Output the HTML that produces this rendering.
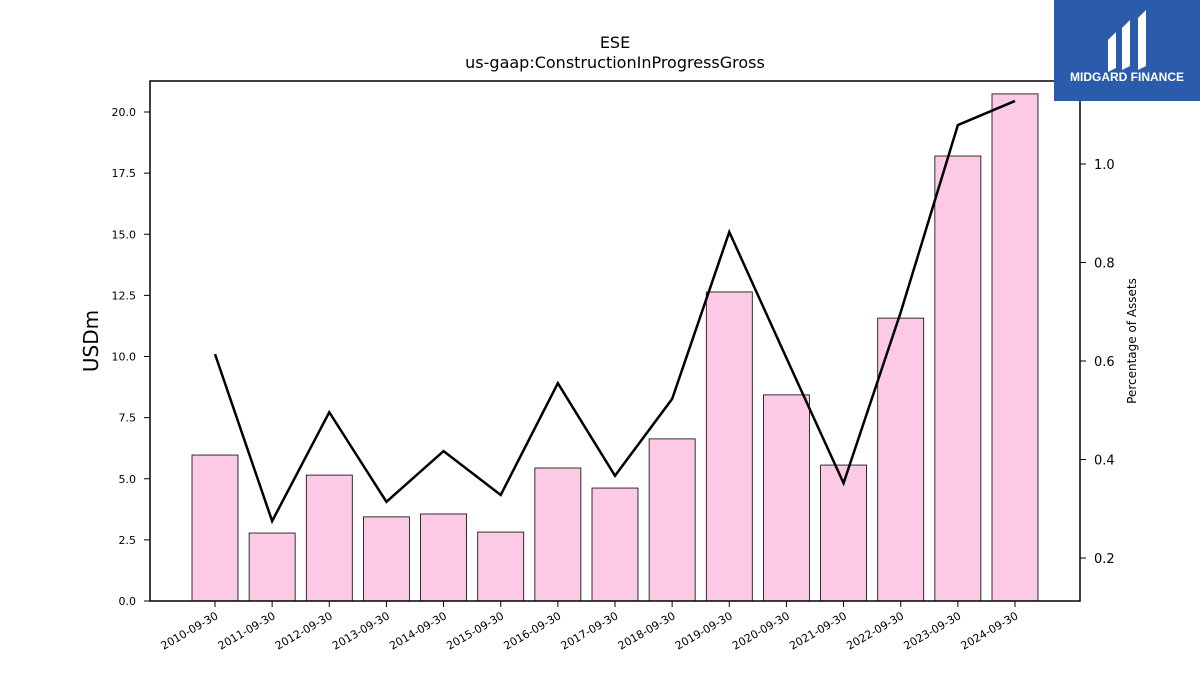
<!DOCTYPE html>
<html><head><meta charset="utf-8"><style>
body{margin:0;background:#fff;width:1200px;height:675px;overflow:hidden;font-family:"Liberation Sans","DejaVu Sans",sans-serif}
</style></head><body>
<svg id="chart" width="1200" height="675" xmlns="http://www.w3.org/2000/svg" font-family="DejaVu Sans, Liberation Sans, sans-serif">
<text x="615" y="48" text-anchor="middle" font-size="16">ESE</text>
<text x="615" y="68" text-anchor="middle" font-size="16">us-gaap:ConstructionInProgressGross</text>
<g id="bars"></g><g id="line"></g><g id="axes"></g>
<rect x="150" y="81" width="930" height="520" fill="none" stroke="#000" stroke-width="1.5"/>
<text transform="translate(98,341) rotate(-90)" text-anchor="middle" font-size="20">USDm</text>
<text transform="translate(1136,341) rotate(-90)" text-anchor="middle" font-size="12">Percentage of Assets</text>
<g>
<rect x="1054" y="0" width="146" height="101" fill="#2b5bab"/>
<path d="M1108 40 L1116 32 L1116 68 L1108 72 Z M1122 28 L1130 20 L1130 66 L1122 70 Z M1138 18 L1146 10 L1146 66 L1138 70 Z" fill="#fff"/>
<text x="1127" y="81" text-anchor="middle" font-size="12" font-weight="bold" fill="#fff" font-family="Liberation Sans, sans-serif">MIDGARD FINANCE</text>
</g>
</svg>
<script>
const categories=["2010-09-30","2011-09-30","2012-09-30","2013-09-30","2014-09-30","2015-09-30","2016-09-30","2017-09-30","2018-09-30","2019-09-30","2020-09-30","2021-09-30","2022-09-30","2023-09-30","2024-09-30"];
const barValues=[5.97,2.78,5.15,3.44,3.56,2.82,5.44,4.62,6.63,12.64,8.43,5.56,11.57,18.2,20.74];
const pctValues=[0.614,0.275,0.496,0.314,0.417,0.328,0.555,0.367,0.523,0.862,0.606,0.352,0.699,1.079,1.128];
const leftTicks=[0,2.5,5,7.5,10,12.5,15,17.5,20];
const rightTicks=[0.2,0.4,0.6,0.8,1.0];
const NS="http://www.w3.org/2000/svg";
const x=i=>215+i*(1015-215)/(categories.length-1);
const yL=v=>601-v*(601-112)/20;
const yR=v=>164+(1.0-v)*(558-164)/0.8;
function mk(t,a,p){const e=document.createElementNS(NS,t);for(const k in a)e.setAttribute(k,a[k]);p.appendChild(e);return e;}
const gb=document.getElementById('bars'),gl=document.getElementById('line'),ga=document.getElementById('axes');
barValues.forEach((v,i)=>{
 const r=mk('rect',{x:x(i)-23,y:yL(v),width:46,height:601-yL(v),fill:'#fccae4',stroke:'#000','stroke-width':0.8},gb);
 
 
});
const pl=mk('polyline',{points:pctValues.map((v,i)=>x(i)+','+yR(v)).join(' '),fill:'none',stroke:'#000','stroke-width':2.5},gl);


leftTicks.forEach(v=>{
 mk('line',{x1:144,x2:150,y1:yL(v),y2:yL(v),stroke:'#000'},ga);
 const t=mk('text',{x:136,y:yL(v)+4,'text-anchor':'end','font-size':11},ga);t.textContent=v.toFixed(1);
 
 
});
rightTicks.forEach(v=>{
 mk('line',{x1:1080,x2:1086,y1:yR(v),y2:yR(v),stroke:'#000'},ga);
 const t=mk('text',{x:1094,y:yR(v)+5,'font-size':13},ga);t.textContent=v.toFixed(1);
 
 
});
categories.forEach((c,i)=>{
 mk('line',{x1:x(i),x2:x(i),y1:601,y2:607,stroke:'#000'},ga);
 const t=mk('text',{transform:`translate(${x(i)+4},${618}) rotate(-30)`,'text-anchor':'end','font-size':11},ga);t.textContent=c;
 
 
});
</script>
</body></html>
